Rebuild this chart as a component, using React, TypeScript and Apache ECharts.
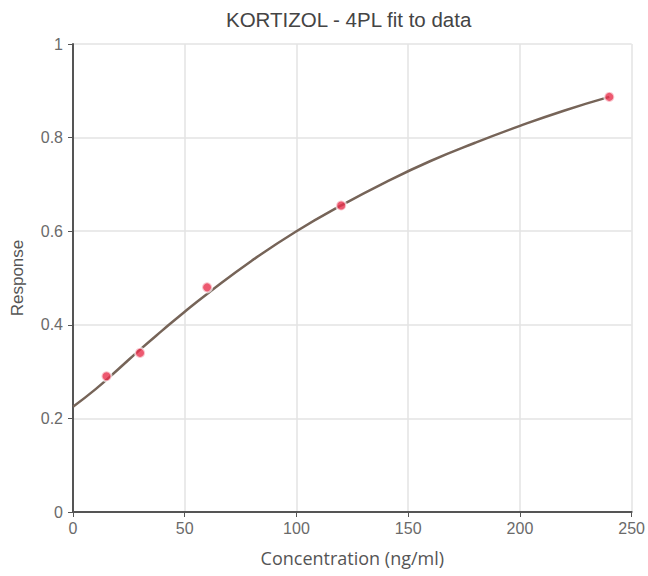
import React, { useEffect, useRef } from "react";
import * as echarts from "echarts";

const pointX = [15, 30, 60, 120, 240];
const pointY = [0.29, 0.34, 0.48, 0.655, 0.887];

const curveX = [0, 10, 20, 30, 40, 50, 60, 80, 100, 120, 140, 160, 180, 200, 220, 240];
const curveY = [0.225, 0.262, 0.304, 0.347, 0.388, 0.428, 0.466, 0.537, 0.6, 0.655, 0.705, 0.75, 0.789, 0.825, 0.858, 0.887];

const FONT = "Liberation Sans, Arial, sans-serif";
const FONT2 = "Open Sans, Noto Sans, sans-serif";

export default function App() {
  const ref = useRef<HTMLDivElement>(null);
  useEffect(() => {
    document.body.style.margin = "0";
    const chart = echarts.init(ref.current!, null, { renderer: "svg" });
    chart.setOption({
      animation: false,
      backgroundColor: "#ffffff",
      title: {
        text: "KORTIZOL - 4PL fit to data",
        left: 221,
        top: 4,
        textStyle: { fontFamily: FONT, fontSize: 20.5, fontWeight: "normal", color: "#444" },
      },
      grid: { left: 73, right: 15, top: 44, bottom: 64 },
      xAxis: {
        type: "value",
        min: 0,
        max: 250,
        interval: 50,
        name: "Concentration (ng/ml)",
        nameLocation: "middle",
        nameGap: 37,
        nameTextStyle: { fontFamily: FONT2, fontSize: 18, color: "#555" },
        axisLine: { show: true, onZero: false, lineStyle: { color: "#555", width: 2 } },
        axisTick: { show: true, length: 5, lineStyle: { color: "#555" } },
        axisLabel: { fontFamily: FONT, fontSize: 16, color: "#6a6a6a", margin: 8 },
        splitLine: { show: true, lineStyle: { color: "#e3e3e3", width: 1.5 } },
      },
      yAxis: {
        type: "value",
        min: 0,
        max: 1,
        interval: 0.2,
        name: "Response",
        nameLocation: "middle",
        nameGap: 47,
        nameTextStyle: { fontFamily: FONT, fontSize: 17, color: "#555" },
        axisLine: { show: true, lineStyle: { color: "#555", width: 2 } },
        axisTick: { show: true, length: 5, lineStyle: { color: "#555" } },
        axisLabel: { fontFamily: FONT, fontSize: 16, color: "#6a6a6a", margin: 10 },
        splitLine: { show: true, lineStyle: { color: "#e3e3e3", width: 1.5 } },
      },
      series: [
        {
          type: "line",
          data: curveX.map((x, i) => [x, curveY[i]]),
          smooth: true,
          showSymbol: false,
          lineStyle: { color: "#766458", width: 2.5 },
          z: 2,
        },
        {
          type: "scatter",
          data: pointX.map((x, i) => [x, pointY[i]]),
          symbolSize: 10,
          itemStyle: { color: "#e8304c", borderColor: "rgba(255,255,255,0.8)", borderWidth: 2 },
          z: 3,
        },
      ],
    });
    return () => chart.dispose();
  }, []);
  return <div ref={ref} style={{ width: 648, height: 576 }} />;
}
